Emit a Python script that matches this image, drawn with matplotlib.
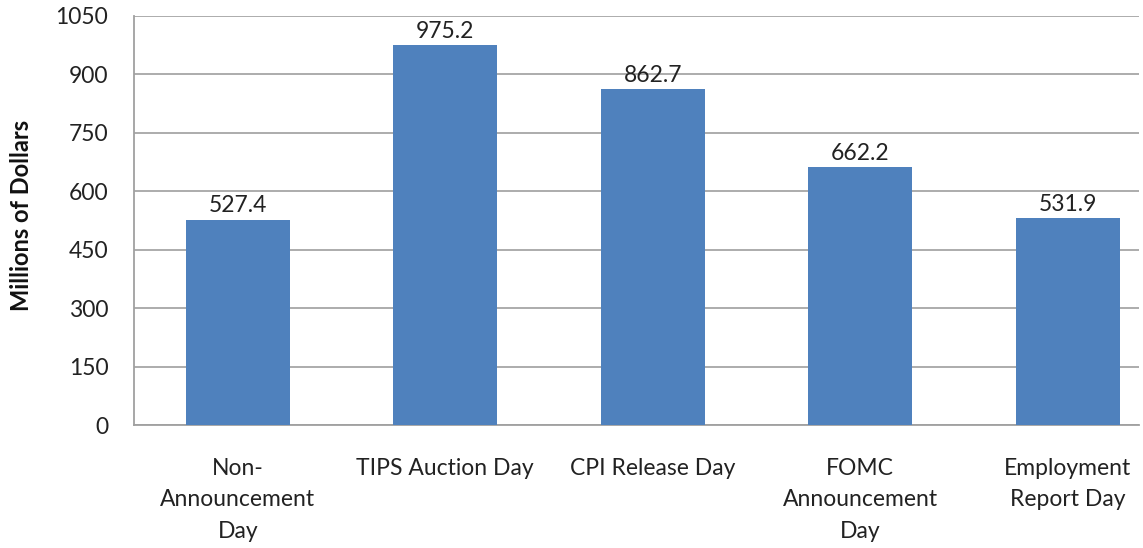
import matplotlib
matplotlib.use("Agg")
import matplotlib.pyplot as plt

categories = ["Non-\nAnnouncement\nDay", "TIPS Auction Day", "CPI Release Day",
              "FOMC\nAnnouncement\nDay", "Employment\nReport Day"]
values = [527.4, 975.2, 862.7, 662.2, 531.9]
yticks = [0, 150, 300, 450, 600, 750, 900, 1050]

plt.rcParams['font.family'] = ['Lato', 'DejaVu Sans']

fig = plt.figure(figsize=(11.43, 5.48), dpi=100)
ax = fig.add_axes([134 / 1143, 1 - 425 / 548, (1139 - 134) / 1143, (425 - 16) / 548])

x = list(range(len(categories)))
ax.bar(x, values, width=0.5, color="#4F81BD", zorder=3)
for xi, v in zip(x, values):
    ax.text(xi, v + 8, f"{v:.1f}", ha="center", va="bottom", fontsize=16.5, color="#222222")

# plot area runs slightly short of the last category's full slot
ax.set_xlim(-0.5, 4.343)
ax.set_ylim(0, 1050)
ax.set_yticks(yticks)
ax.set_yticklabels([str(t) for t in yticks], fontsize=16.5, color="#222222")
ax.set_xticks(x)
ax.set_xticklabels(categories, fontsize=16.5, color="#222222", linespacing=1.62)
ax.tick_params(axis="both", length=0)
ax.tick_params(axis="y", pad=18.5)
ax.tick_params(axis="x", pad=23.5)
ax.grid(axis="y", color="#A6A6A6", linewidth=1.3, zorder=0)
for s in ["top", "right"]:
    ax.spines[s].set_visible(False)
for s in ["left", "bottom"]:
    ax.spines[s].set_color("#A0A0A0")
    ax.spines[s].set_linewidth(1.3)

fig.text(22 / 1143, 1 - 215 / 548, "Millions of Dollars", rotation=90, fontsize=17,
         fontweight="bold", ha="center", va="center", color="#111111")

fig.savefig("out.png", dpi=100)
